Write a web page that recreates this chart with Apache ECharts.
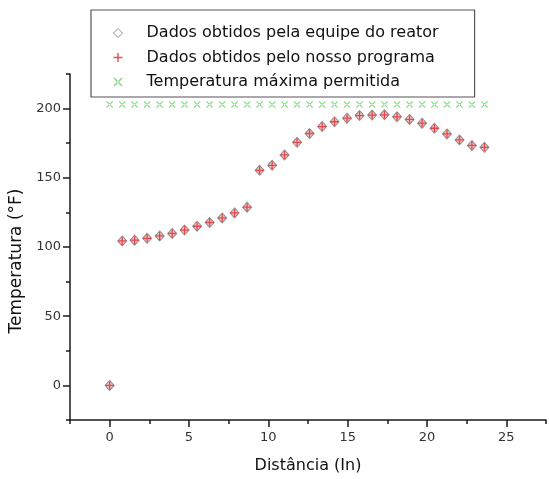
<!DOCTYPE html>
<html>
<head>
<meta charset="utf-8">
<script src="https://cdn.jsdelivr.net/npm/echarts@6.0.0/dist/echarts.min.js"></script>
<style>
  html, body { margin: 0; padding: 0; background: #fff; }
  #chart { width: 549px; height: 479px; }
</style>
</head>
<body>
<div id="chart"></div>
<script>
// distancia (in) de cada ponto
var distancia = [0, 0.79, 1.57, 2.36, 3.15, 3.94, 4.72, 5.51, 6.30, 7.09, 7.87,
  8.66, 9.45, 10.24, 11.02, 11.81, 12.60, 13.39, 14.17, 14.96, 15.75,
  16.54, 17.32, 18.11, 18.90, 19.69, 20.47, 21.26, 22.05, 22.83, 23.62];

// dados da equipe do reator
var tempReator = [0, 104.4, 104.9, 106.3, 108, 109.8, 112.2, 115, 117.7, 121, 124.6,
  128.8, 155.4, 159, 166.5, 175.6, 182, 187, 190.5, 193.1, 195,
  195.3, 195.5, 194.1, 192.2, 189.5, 185.8, 181.7, 177.4, 173.4, 172];

// dados do nosso programa
var tempPrograma = [0, 104.4, 104.9, 106.3, 108, 109.8, 112.2, 115, 117.7, 121, 124.6,
  128.8, 155.4, 159, 166.5, 175.6, 182, 187, 190.5, 193.1, 195,
  195.3, 195.5, 194.1, 192.2, 189.5, 185.8, 181.7, 177.4, 173.4, 172];

// temperatura maxima permitida
var tempMaxima = [203, 203, 203, 203, 203, 203, 203, 203, 203, 203, 203,
  203, 203, 203, 203, 203, 203, 203, 203, 203, 203,
  203, 203, 203, 203, 203, 203, 203, 203, 203, 203];

var xTicks = [0, 5, 10, 15, 20, 25];
var yTicks = [0, 50, 100, 150, 200];

var nomes = ['Dados obtidos pela equipe do reator', 'Dados obtidos pelo nosso programa', 'Temperatura máxima permitida'];

function pares(xs, ys) {
  var res = [];
  for (var i = 0; i < xs.length; i++) {
    res.push([xs[i], ys[i]]);
  }
  return res;
}

var FONTE = 'DejaVu Sans';
var plusPath = 'path://M4.2,0 H5.8 V4.2 H10 V5.8 H5.8 V10 H4.2 V5.8 H0 V4.2 H4.2 Z';
var xPath = 'path://M0,1 L1,0 L10,9 L9,10 Z M9,0 L0,9 L1,10 L10,1 Z';

var myChart = echarts.init(document.getElementById('chart'));

var option = {
  backgroundColor: '#fff',
  animation: false,
  legend: {
    orient: 'vertical',
    left: 91,
    top: 10,
    padding: [15, 36, 7, 22],
    itemGap: 8.5,
    itemWidth: 9,
    itemHeight: 9,
    borderColor: '#555',
    borderWidth: 1.2,
    textStyle: { fontFamily: FONTE, fontSize: 16, color: '#111', padding: [0, 0, 0, 19] },
    data: [
      { name: nomes[0], itemStyle: { color: '#fff', borderColor: '#777', borderWidth: 1 } },
      { name: nomes[1] },
      { name: nomes[2] }
    ]
  },
  grid: { left: 70, right: 1, top: 74, bottom: 54 },
  xAxis: [{
    type: 'value',
    min: -2.5,
    max: 27.5,
    interval: 2.5,
    name: 'Distância (In)',
    nameLocation: 'middle',
    nameGap: 38,
    nameTextStyle: { fontFamily: FONTE, fontSize: 16, color: '#111' },
    axisLine: { show: true, onZero: false, lineStyle: { color: '#1a1a1a', width: 1.5 } },
    axisTick: { show: true, length: 4, lineStyle: { color: '#1a1a1a', width: 1.5 } },
    axisLabel: {
      fontFamily: FONTE, fontSize: 13, color: '#333', margin: 11,
      formatter: function (v) { return xTicks.indexOf(v) >= 0 ? String(v) : ''; }
    },
    splitLine: { show: false }
  }, {
    type: 'value',
    position: 'bottom',
    min: -2.5,
    max: 27.5,
    axisLine: { show: false, onZero: false },
    axisTick: { show: true, length: 7, customValues: xTicks, lineStyle: { color: '#1a1a1a', width: 1.5 } },
    axisLabel: { show: false },
    splitLine: { show: false }
  }],
  yAxis: [{
    type: 'value',
    min: -25,
    max: 225,
    interval: 25,
    name: 'Temperatura (°F)',
    nameLocation: 'middle',
    nameGap: 34,
    nameTextStyle: { fontFamily: FONTE, fontSize: 17, color: '#111', padding: [0, 28, 0, 0] },
    axisLine: { show: true, onZero: false, lineStyle: { color: '#1a1a1a', width: 1.5 } },
    axisTick: { show: true, length: 4, lineStyle: { color: '#1a1a1a', width: 1.5 } },
    axisLabel: {
      fontFamily: FONTE, fontSize: 13, color: '#333', margin: 9,
      formatter: function (v) { return yTicks.indexOf(v) >= 0 ? String(v) : ''; }
    },
    splitLine: { show: false }
  }, {
    type: 'value',
    position: 'left',
    min: -25,
    max: 225,
    axisLine: { show: false, onZero: false },
    axisTick: { show: true, length: 7, customValues: yTicks, lineStyle: { color: '#1a1a1a', width: 1.5 } },
    axisLabel: { show: false },
    splitLine: { show: false }
  }],
  series: [{
    name: nomes[0],
    type: 'scatter',
    symbol: 'diamond',
    symbolSize: [9, 10],
    itemStyle: { color: '#e9b7b7', borderColor: '#777', borderWidth: 1 },
    data: pares(distancia, tempReator)
  }, {
    name: nomes[1],
    type: 'scatter',
    symbol: plusPath,
    symbolSize: 8,
    itemStyle: { color: '#e8242c' },
    data: pares(distancia, tempPrograma)
  }, {
    name: nomes[2],
    type: 'scatter',
    symbol: xPath,
    symbolSize: 7,
    itemStyle: { color: '#55d055' },
    data: pares(distancia, tempMaxima)
  }]
};

myChart.setOption(option);
</script>
</body>
</html>
